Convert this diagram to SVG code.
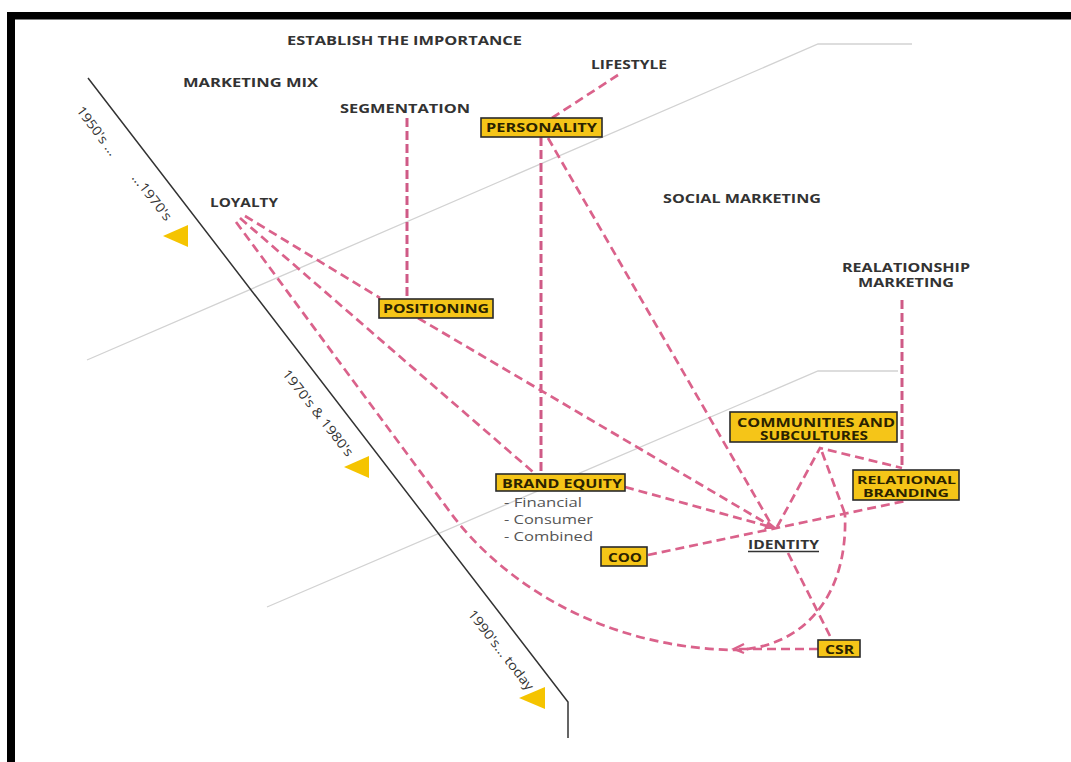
<svg xmlns="http://www.w3.org/2000/svg" width="1071" height="762" viewBox="0 0 1071 762">
<style>
.lbl{font-family:"Open Sans","Liberation Sans",sans-serif;font-weight:bold;font-size:13px;fill:#333}
.box rect{fill:#F5C518;stroke:#2a2a2a;stroke-width:1.6}
.box text{font-family:"Open Sans","Liberation Sans",sans-serif;font-weight:bold;font-size:11.5px;fill:#2a2200}
.era{font-family:"Open Sans","Liberation Sans",sans-serif;font-size:13px;fill:#333}
.sub{font-family:"Open Sans","Liberation Sans",sans-serif;font-size:12.5px;fill:#555}
.dash{fill:none;stroke:#DA628B;stroke-width:2.7;stroke-dasharray:9 5}
.vdash{fill:none;stroke:#CF5A86;stroke-width:3;stroke-dasharray:9 4}
.grey{fill:none;stroke:#D2D2D2;stroke-width:1.3}
.tri{fill:#F5C400}
</style>
<rect x="0" y="0" width="1071" height="762" fill="#fff"/>
<!-- frame -->
<rect x="7" y="12" width="1064" height="7.5" fill="#000"/>
<rect x="7" y="12" width="8" height="750" fill="#000"/>

<g id="background">
  <polyline class="grey" points="87,360 818,44 912,44"/>
  <polyline class="grey" points="267,607 818,371 898,371"/>
  <polyline fill="none" stroke="#333" stroke-width="1.5" points="88,78 568,702 568,738"/>
  <polygon class="tri" points="163,236 188,225 188,247"/>
  <polygon class="tri" points="344,467 369,456 369,478"/>
  <polygon class="tri" points="519,698 545,687 545,709"/>
  <text class="era" transform="rotate(53 97 131)" x="97" y="131" dy="0.35em" text-anchor="middle" textLength="58" lengthAdjust="spacingAndGlyphs">1950's ...</text>
  <text class="era" transform="rotate(52 152 197)" x="152" y="197" dy="0.35em" text-anchor="middle" textLength="56" lengthAdjust="spacingAndGlyphs">...1970's</text>
  <text class="era" transform="rotate(52 318 413)" x="318" y="413" dy="0.35em" text-anchor="middle" textLength="106" lengthAdjust="spacingAndGlyphs">1970's &amp; 1980's</text>
  <text class="era" transform="rotate(52 501 650)" x="501" y="650" dy="0.35em" text-anchor="middle" textLength="98" lengthAdjust="spacingAndGlyphs">1990's... today</text>
</g>

<g id="connectors">
  <line class="vdash" x1="407" y1="118" x2="407" y2="299"/>
  <line class="dash" x1="618" y1="75" x2="552" y2="118"/>
  <line class="vdash" x1="541" y1="137" x2="541" y2="474"/>
  <line class="dash" x1="548" y1="138" x2="771" y2="524"/>
  <line class="dash" x1="240" y1="218" x2="533" y2="472"/>
  <line class="dash" x1="245" y1="216" x2="380" y2="298"/>
  <path class="dash" d="M236,222 L450,512 C500,580 600,648 735,650 C800,648 848,600 845,515"/>
  <line class="dash" x1="418" y1="318" x2="771" y2="526"/>
  <line class="dash" x1="625" y1="487" x2="771" y2="527"/>
  <line class="dash" x1="648" y1="555" x2="905" y2="501"/>
  <polyline class="dash" points="777,527 820,448 902,468"/>
  <line class="dash" x1="822" y1="452" x2="845" y2="514"/>
  <line class="vdash" x1="902" y1="300" x2="902" y2="468"/>
  <line class="dash" x1="788" y1="553" x2="832" y2="640"/>
  <line class="dash" x1="818" y1="649" x2="735" y2="649"/>
  <polygon fill="#DA628B" points="778,529 764,529 768,521"/>
  <polyline fill="none" stroke="#DA628B" stroke-width="2.4" points="744,644 734,649 744,653"/>
</g>

<g id="n-establish"><text class="lbl" x="287" y="45" textLength="235" lengthAdjust="spacingAndGlyphs">ESTABLISH THE IMPORTANCE</text></g>
<g id="n-marketing-mix"><text class="lbl" x="183" y="87" textLength="135" lengthAdjust="spacingAndGlyphs">MARKETING MIX</text></g>
<g id="n-segmentation"><text class="lbl" x="340" y="113" textLength="130" lengthAdjust="spacingAndGlyphs">SEGMENTATION</text></g>
<g id="n-lifestyle"><text class="lbl" x="591" y="69" textLength="76" lengthAdjust="spacingAndGlyphs">LIFESTYLE</text></g>
<g id="n-loyalty"><text class="lbl" x="210" y="207" textLength="68" lengthAdjust="spacingAndGlyphs">LOYALTY</text></g>
<g id="n-social"><text class="lbl" x="663" y="203" textLength="158" lengthAdjust="spacingAndGlyphs">SOCIAL MARKETING</text></g>
<g id="n-relationship-marketing">
  <text class="lbl" style="font-size:11.5px"><tspan x="842" y="272" textLength="128" lengthAdjust="spacingAndGlyphs">REALATIONSHIP</tspan><tspan x="858" y="286.5" textLength="96" lengthAdjust="spacingAndGlyphs">MARKETING</tspan></text>
</g>
<g id="n-personality" class="box"><rect x="481" y="118" width="121" height="19"/><text x="486" y="132" textLength="111" lengthAdjust="spacingAndGlyphs">PERSONALITY</text></g>
<g id="n-positioning" class="box"><rect x="379" y="299" width="114" height="19"/><text x="383" y="313" textLength="106" lengthAdjust="spacingAndGlyphs">POSITIONING</text></g>
<g id="n-communities" class="box"><rect x="730" y="412" width="167" height="30"/>
  <text><tspan x="737" y="427" textLength="158" lengthAdjust="spacingAndGlyphs">COMMUNITIES AND</tspan><tspan x="760" y="440" textLength="108" lengthAdjust="spacingAndGlyphs">SUBCULTURES</tspan></text></g>
<g id="n-brand-equity" class="box"><rect x="496" y="474" width="129" height="17"/><text x="502" y="488" textLength="120" lengthAdjust="spacingAndGlyphs">BRAND EQUITY</text></g>
<g id="n-brand-equity-sub">
  <text class="sub" x="504" y="507" textLength="78" lengthAdjust="spacingAndGlyphs">- Financial</text>
  <text class="sub" x="504" y="524" textLength="89" lengthAdjust="spacingAndGlyphs">- Consumer</text>
  <text class="sub" x="504" y="541" textLength="89" lengthAdjust="spacingAndGlyphs">- Combined</text>
</g>
<g id="n-relational-branding" class="box"><rect x="853" y="470" width="106" height="30"/>
  <text style="font-size:11px"><tspan x="857" y="484" textLength="99" lengthAdjust="spacingAndGlyphs">RELATIONAL</tspan><tspan x="863" y="497" textLength="86" lengthAdjust="spacingAndGlyphs">BRANDING</tspan></text></g>
<g id="n-coo" class="box"><rect x="601" y="547" width="46" height="19"/><text x="608" y="562" textLength="34" lengthAdjust="spacingAndGlyphs">COO</text></g>
<g id="n-identity"><text class="lbl" x="748" y="549" textLength="71" lengthAdjust="spacingAndGlyphs">IDENTITY</text><line x1="748" y1="551.5" x2="819" y2="551.5" stroke="#333" stroke-width="1.3"/></g>
<g id="n-csr" class="box"><rect x="818" y="640" width="42" height="17"/><text x="825" y="654" textLength="29" lengthAdjust="spacingAndGlyphs">CSR</text></g>
</svg>
